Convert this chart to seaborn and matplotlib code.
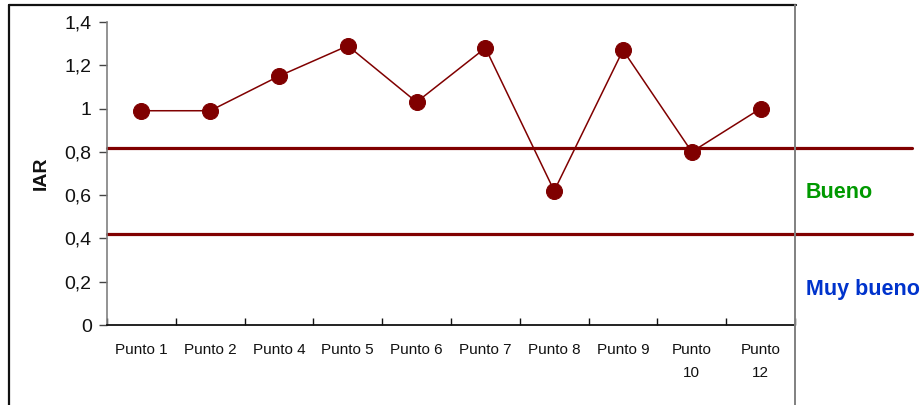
import matplotlib
matplotlib.use("Agg")
import matplotlib.pyplot as plt
from matplotlib.lines import Line2D
from matplotlib.transforms import blended_transform_factory
import seaborn as sns
import pandas as pd

# Data
puntos = ["Punto 1", "Punto 2", "Punto 4", "Punto 5", "Punto 6",
          "Punto 7", "Punto 8", "Punto 9", "Punto 10", "Punto 12"]
iar = [0.99, 0.99, 1.15, 1.29, 1.03, 1.28, 0.62, 1.27, 0.80, 1.00]
x_labels = ["Punto 1", "Punto 2", "Punto 4", "Punto 5", "Punto 6",
            "Punto 7", "Punto 8", "Punto 9", "Punto\n10", "Punto\n12"]
y_ticks = [0, 0.2, 0.4, 0.6, 0.8, 1.0, 1.2, 1.4]
y_tick_labels = ["0", "0,2", "0,4", "0,6", "0,8", "1", "1,2", "1,4"]
limites = [0.82, 0.42]
zonas = ["Bueno", "Muy bueno"]
zona_y = [0.61, 0.162]
zona_colores = ["#009900", "#0033CC"]

sns.set_theme(style="white")
plt.rcParams["font.family"] = ["Liberation Sans", "DejaVu Sans"]

W, H = 921, 405
fig = plt.figure(figsize=(W / 100, H / 100), dpi=100)
fig.patch.set_facecolor("white")
ax = fig.add_axes([107 / W, 1 - 325 / H, (795 - 107) / W, (325 - 22) / H])

df = pd.DataFrame({"Punto": puntos, "IAR": iar})
dark_red = "#800000"
sns.lineplot(data=df, x="Punto", y="IAR", sort=False, ax=ax, color=dark_red,
             linewidth=1.1, marker="o", markersize=11.5,
             markeredgecolor=dark_red, markerfacecolor=dark_red)

# Threshold lines that run past the plot area
for y in limites:
    ax.plot([0, (912 - 107) / (795 - 107)], [y, y], color=dark_red, lw=2.3,
            transform=ax.get_yaxis_transform(), clip_on=False, zorder=1)

ax.set_xlim(-0.5, len(puntos) - 0.5)
ax.set_ylim(0, 1.4)

# Category ticks between points, labels centred under each point
ax.set_xticks([i - 0.5 for i in range(len(puntos) + 1)])
ax.set_xticklabels([])
ax.set_xticks(range(len(puntos)), minor=True)
ax.set_xticklabels(x_labels, minor=True, fontsize=11, color="#111111",
                   linespacing=1.85, va="top")
ax.tick_params(axis="x", which="major", direction="in", length=5, width=1,
               color="#111111", bottom=True)
ax.tick_params(axis="x", which="minor", length=0, pad=13, bottom=True)

ax.set_yticks(y_ticks)
ax.set_yticklabels(y_tick_labels, fontsize=14, color="#111111")
ax.tick_params(axis="y", direction="out", length=6, width=1,
               color="#444444", left=True, pad=5)

ax.set_xlabel("")
ax.set_ylabel("")
fig.text(41 / W, 1 - 173 / H, "IAR", rotation=90, fontsize=14,
         fontweight="bold", color="#111111", ha="center", va="center")

for side in ["top", "right"]:
    ax.spines[side].set_visible(False)
ax.spines["left"].set_color("#808080")
ax.spines["left"].set_linewidth(1.2)
ax.spines["bottom"].set_color("#111111")
ax.spines["bottom"].set_linewidth(1.3)

# Zone labels on the right
zona_tr = blended_transform_factory(fig.transFigure, ax.transData)
for txt, y, c in zip(zonas, zona_y, zona_colores):
    ax.text(806 / W, y, txt, transform=zona_tr, fontsize=15.5,
            fontweight="bold", color=c, ha="left", va="center")

# Outer frame
fig.add_artist(Line2D([9 / W, 9 / W], [0, 1 - 5 / H], color="#111111",
                      lw=1.6, transform=fig.transFigure))
fig.add_artist(Line2D([9 / W, 796 / W], [1 - 5 / H, 1 - 5 / H],
                      color="#111111", lw=1.6, transform=fig.transFigure))
fig.add_artist(Line2D([795 / W, 795 / W], [0, 1 - 5 / H], color="#808080",
                      lw=1.4, transform=fig.transFigure))

fig.savefig("out.png", dpi=100, facecolor="white")
